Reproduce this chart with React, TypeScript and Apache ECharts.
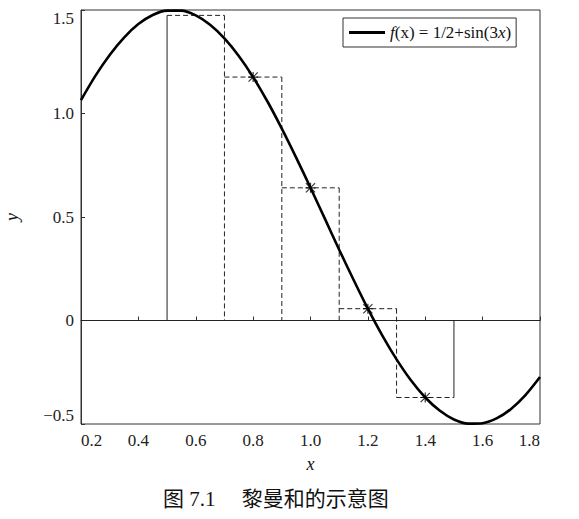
import React, { useEffect, useRef } from "react";
import * as echarts from "echarts";

// Curve f(x) = 1/2 + sin(3x), values at x steps of 0.05
const curveX = [0.2, 0.25, 0.3, 0.35, 0.4, 0.45, 0.5, 0.55, 0.6, 0.65, 0.7, 0.75, 0.8, 0.85, 0.9, 0.95, 1.0, 1.05, 1.1, 1.15, 1.2, 1.25, 1.3, 1.35, 1.4, 1.45, 1.5, 1.55, 1.6, 1.65, 1.7, 1.75, 1.8];
const curveY = [1.065, 1.182, 1.283, 1.367, 1.432, 1.476, 1.497, 1.497, 1.474, 1.429, 1.363, 1.278, 1.176, 1.058, 0.927, 0.787, 0.641, 0.492, 0.342, 0.197, 0.057, -0.072, -0.188, -0.289, -0.372, -0.435, -0.478, -0.498, -0.496, -0.472, -0.426, -0.359, -0.273];

// Riemann sum rectangles
const edges = [0.5, 0.7, 0.9, 1.1, 1.3, 1.5];
const midX = [0.6, 0.8, 1.0, 1.2, 1.4];
const midY = [1.474, 1.176, 0.641, 0.057, -0.372];
const starred = [false, true, true, true, true];

const xMin = 0.2, xMax = 1.8, xStep = 0.2;
const yMin = -0.5, yMax = 1.5, yStep = 0.5;

const legendName = "f";
const caption = "图 7.1\u3000 黎曼和的示意图";

const SERIF = "Liberation Serif";
const CAPFONT = "Liberation Serif, Noto Sans CJK SC";

const STAR =
  "path://M44 0 H56 V100 H44 Z M0 44 H100 V56 H0 Z M0 8 L8 0 L100 92 L92 100 Z M92 0 L100 8 L8 100 L0 92 Z";

export default function App() {
  const ref = useRef<HTMLDivElement>(null);
  useEffect(() => {
    document.body.style.margin = "0";
    const chart = echarts.init(ref.current!, null, { renderer: "svg" });

    const dashStyle = { color: "#222", width: 1, type: [5, 3] as any };
    const solidStyle = { color: "#222", width: 1 };
    const series: any[] = [];
    const seg = (pts: number[][], style: any) =>
      series.push({
        type: "line",
        data: pts,
        symbol: "none",
        silent: true,
        lineStyle: style,
        z: 2,
      });

    // zero line
    seg([[xMin, 0], [xMax, 0]], solidStyle);
    // tops (dashed)
    for (let i = 0; i < midY.length; i++) {
      seg([[edges[i], midY[i]], [edges[i + 1], midY[i]]], dashStyle);
    }
    // interior verticals (dashed)
    for (let i = 1; i < edges.length - 1; i++) {
      const a = midY[i - 1], b = midY[i];
      seg([[edges[i], Math.max(0, a, b)], [edges[i], Math.min(0, a, b)]], dashStyle);
    }
    // outer verticals (solid)
    seg([[edges[0], 0], [edges[0], midY[0]]], solidStyle);
    const n = edges.length - 1;
    seg([[edges[n], 0], [edges[n], midY[n - 1]]], solidStyle);

    series.push({
      name: legendName,
      type: "line",
      data: curveX.map((x, i) => [x, curveY[i]]),
      smooth: 0.3,
      symbol: "none",
      lineStyle: { color: "#000", width: 2.6 },
      itemStyle: { color: "#000" },
      z: 3,
    });
    series.push({
      type: "scatter",
      data: midX.map((x, i) => [x, midY[i]]).filter((_, i) => starred[i]),
      symbol: STAR,
      symbolSize: 10,
      itemStyle: { color: "#000" },
      silent: true,
      z: 4,
    });

    chart.setOption({
      animation: false,
      grid: {
        left: 81,
        right: 39,
        top: 10,
        bottom: 95,
        containLabel: false,
        outerBoundsMode: "none",
        show: true,
        borderColor: "#333",
        borderWidth: 1,
        backgroundColor: "transparent",
      },
      legend: {
        data: [legendName],
        left: 343,
        top: 18,
        icon: "rect",
        itemWidth: 36,
        itemHeight: 3,
        borderColor: "#333",
        borderWidth: 1,
        backgroundColor: "#fff",
        padding: [6, 5, 6, 6],
        formatter: () => "{i|f}(x) = 1/2+sin(3{i|x})",
        textStyle: {
          fontFamily: SERIF,
          fontSize: 17,
          color: "#111",
          rich: {
            i: { fontFamily: SERIF, fontSize: 17, fontStyle: "italic", color: "#111" },
          },
        },
      },
      xAxis: {
        type: "value",
        min: xMin,
        max: xMax,
        interval: xStep,
        name: "x",
        nameLocation: "middle",
        nameGap: 31,
        nameTextStyle: { fontFamily: SERIF, fontSize: 18, fontStyle: "italic", color: "#111" },
        splitLine: { show: false },
        axisLine: { lineStyle: { color: "#333", width: 1 } },
        axisTick: { inside: true, length: 4, lineStyle: { color: "#333" } },
        axisLabel: {
          margin: 8,
          fontFamily: SERIF,
          fontSize: 17,
          color: "#222",
          alignMinLabel: "left",
          alignMaxLabel: "right",
          formatter: (v: number) => v.toFixed(1),
        },
      },
      yAxis: {
        type: "value",
        min: yMin,
        max: yMax,
        interval: yStep,
        name: "y",
        nameLocation: "middle",
        nameRotate: 90,
        nameGap: 60,
        nameTextStyle: { fontFamily: SERIF, fontSize: 18, fontStyle: "italic", color: "#111" },
        splitLine: { show: false },
        axisLine: { lineStyle: { color: "#333", width: 1 } },
        axisTick: { inside: true, length: 4, lineStyle: { color: "#333" } },
        axisLabel: {
          margin: 7,
          fontFamily: SERIF,
          fontSize: 17,
          color: "#222",
          verticalAlignMinLabel: "bottom",
          verticalAlignMaxLabel: "top",
          formatter: (v: number) =>
            Math.abs(v) < 1e-9 ? "0" : v < 0 ? "\u2212" + Math.abs(v).toFixed(1) : v.toFixed(1),
        },
      },
      graphic: [
        {
          type: "text",
          left: 163,
          top: 488,
          style: {
            text: caption,
            fontFamily: CAPFONT,
            fontSize: 21,
            fill: "#111",
          },
        },
      ],
      series,
    });
    return () => chart.dispose();
  }, []);
  return <div ref={ref} style={{ width: 579, height: 519 }} />;
}
